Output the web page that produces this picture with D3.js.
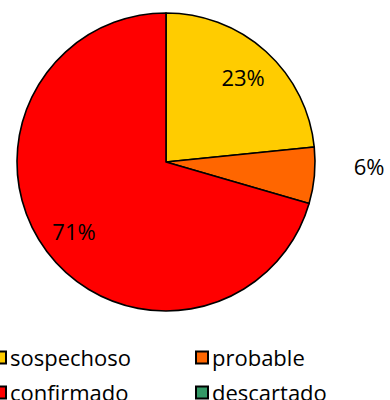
<!DOCTYPE html>
<html><head><meta charset="utf-8">
<script src="https://cdn.jsdelivr.net/npm/d3@7"></script>
<style>body{margin:0;background:#fff}svg{display:block}</style>
</head><body>
<svg id="c" width="390" height="400"></svg>
<script>
const categories = ["sospechoso", "probable", "confirmado", "descartado"];
const values = [23.4, 6.1, 70.5, 0];
const labels = ["23%", "6%", "71%", ""];
const colors = ["#FFCC00", "#FF6600", "#FF0000", "#339966"];

const svg = d3.select("#c");
const cx = 166, cy = 162, R = 149;
const font = "'Open Sans', sans-serif";
const data = categories.map((c, i) => ({cat: c, v: values[i], lab: labels[i], col: colors[i]}));
const pie = d3.pie().value(d => d.v).sort(null);
const arcs = pie(data);
const arc = d3.arc().innerRadius(0).outerRadius(R);
const g = svg.append("g").attr("transform", `translate(${cx},${cy})`);
g.selectAll("path").data(arcs.filter(a => a.data.v > 0)).join("path")
  .attr("d", arc).attr("fill", d => d.data.col)
  .attr("stroke", "#000").attr("stroke-width", 1.6).attr("stroke-linejoin", "round");

g.selectAll("text").data(arcs.filter(a => a.data.v > 0)).join("text")
  .attr("transform", d => {
    const a = (d.startAngle + d.endAngle) / 2;
    const small = d.data.v < 10;
    const r = small ? 204 : 115;
    const yOff = small ? -15 : 0;
    return `translate(${r * Math.sin(a)},${-r * Math.cos(a) + yOff})`;
  })
  .attr("text-anchor", "middle").attr("dominant-baseline", "central")
  .attr("font-family", font).attr("font-size", 22).attr("fill", "#000")
  .text(d => d.data.lab);

const lx = d3.scalePoint().domain([0, 1]).range([0, 202]);
const ly = d3.scalePoint().domain([0, 1]).range([357.5, 392.5]);
const leg = svg.selectAll("g.leg").data(data).join("g").attr("class", "leg")
  .attr("transform", (d, i) => `translate(${lx(i % 2)},${ly(Math.floor(i / 2))})`);
leg.append("rect").attr("x", -6).attr("y", -6).attr("width", 12).attr("height", 12)
  .attr("fill", d => d.col).attr("stroke", "#000").attr("stroke-width", 2);
leg.append("text").attr("x", 10).attr("y", 8)
  .attr("font-family", font).attr("font-size", 22).attr("fill", "#000").text(d => d.cat);
</script>
</body></html>
